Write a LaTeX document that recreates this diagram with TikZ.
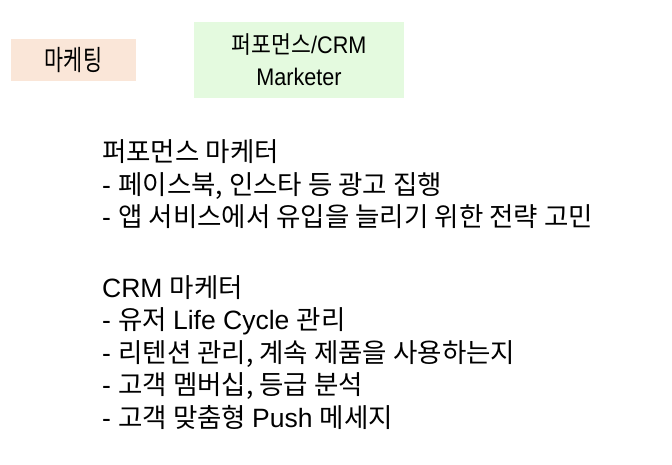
\documentclass[tikz,border=0pt]{standalone}
\usepackage{fontspec}
\setmainfont{Noto Sans CJK KR}
\newfontfamily\latin{Liberation Sans}
\newcommand{\en}[1]{{\latin #1}}
\definecolor{peach}{HTML}{FAE6D8}
\definecolor{mint}{HTML}{E4FADF}
\tikzset{
  tagbox/.style={inner sep=0pt},
  bodyline/.style={anchor=base west, inner sep=0pt, font=\fontsize{26.5}{26.5}\selectfont}
}
\begin{document}
\begin{tikzpicture}[x=1pt, y=-1pt]
  \useasboundingbox (0,0) rectangle (672,465);
  % top boxes
  \node[tagbox, fill=peach, minimum width=125pt, minimum height=42pt, font=\fontsize{28}{28}\selectfont] (marketing) at (73.5,60) {\scalebox{0.74}[1]{마케팅}};
  \node[tagbox, fill=mint, minimum width=210pt, minimum height=76pt, align=center, font=\fontsize{24}{32}\selectfont] (role) at (299,60) {\scalebox{0.9}[1]{퍼포먼스\en{/CRM}}\\\scalebox{0.9}[1]{\en{Marketer}}};
  % performance marketer
  \node[bodyline] (perf) at (102,162) {퍼포먼스 마케터};
  \node[bodyline] (perfa) at (102,194.5) {\en{- }페이스북, 인스타 등 광고 집행};
  \node[bodyline] (perfb) at (102,227) {\en{- }앱 서비스에서 유입을 늘리기 위한 전략 고민};
  % crm marketer
  \node[bodyline] (crm) at (102,297) {\en{CRM }마케터};
  \node[bodyline] (crma) at (102,329.5) {\en{- }유저 \en{Life Cycle }관리};
  \node[bodyline] (crmb) at (102,362) {\en{- }리텐션 관리, 계속 제품을 사용하는지};
  \node[bodyline] (crmc) at (102,394.5) {\en{- }고객 멤버십, 등급 분석};
  \node[bodyline] (crmd) at (102,427) {\en{- }고객 맞춤형 \en{Push }메세지};
\end{tikzpicture}
\end{document}
